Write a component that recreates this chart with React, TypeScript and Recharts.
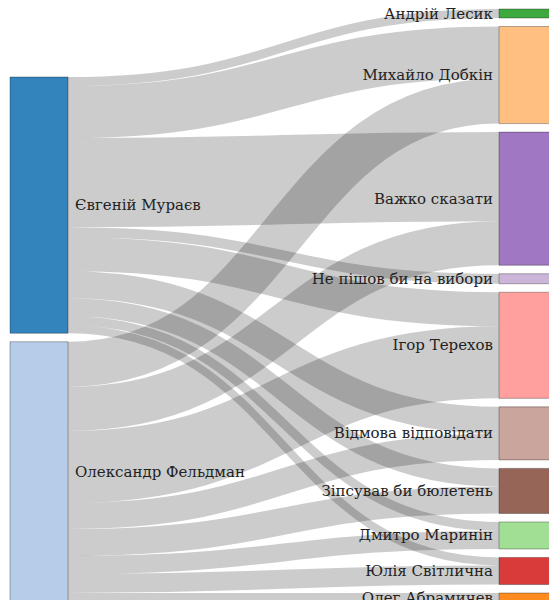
import React from 'react';
import { Sankey, Layer, Rectangle } from 'recharts';

// voters of the two left candidates and where they go
const sourceNames = ['Євгеній Мураєв', 'Олександр Фельдман'];
const targetNames = [
  'Андрій Лесик',
  'Михайло Добкін',
  'Важко сказати',
  'Не пішов би на вибори',
  'Ігор Терехов',
  'Відмова відповідати',
  'Зіпсував би бюлетень',
  'Дмитро Маринін',
  'Юлія Світлична',
  'Олег Абрамичев',
];
const muraevFlows = [9, 52, 89, 10, 34, 27, 18, 9, 8, 0];
const feldmanFlows = [0, 45, 44, 0, 72, 26, 27, 18, 19, 10];

const sourceColors = ['#3383bd', '#b6cce8'];
const targetColors = [
  '#3ea93e', '#ffbf80', '#a077c3', '#cbb6da', '#ffa09e',
  '#c9a59e', '#976458', '#a0df94', '#d93a3a', '#ff8a1f',
];

const nodes = [...sourceNames, ...targetNames].map((name) => ({ name }));
const links: { source: number; target: number; value: number }[] = [];
[muraevFlows, feldmanFlows].forEach((flows, s) => {
  flows.forEach((v, t) => {
    if (v > 0) links.push({ source: s, target: sourceNames.length + t, value: v });
  });
});
const colors = [...sourceColors, ...targetColors];

const SankeyNode = ({ x, y, width, height, index, payload }: any) => {
  const isLeft = payload.depth === 0;
  return (
    <Layer key={`node-${index}`}>
      <Rectangle
        x={x}
        y={y}
        width={width}
        height={height}
        fill={colors[index]}
        stroke="rgba(0,0,0,0.3)"
        strokeWidth={1}
      />
      <text
        x={isLeft ? x + width + 7 : x - 6}
        y={y + height / 2 + 5}
        textAnchor={isLeft ? 'start' : 'end'}
        fontFamily="DejaVu Serif"
        fontSize={15}
        fill="#222"
      >
        {payload.name}
      </text>
    </Layer>
  );
};

const SankeyLink = ({ sourceX, sourceY, sourceControlX, targetX, targetY, targetControlX, linkWidth, index }: any) => (
  <path
    key={`link-${index}`}
    d={`M${sourceX},${sourceY}C${sourceControlX},${sourceY} ${targetControlX},${targetY} ${targetX},${targetY}`}
    fill="none"
    stroke="#000"
    strokeOpacity={0.2}
    strokeWidth={linkWidth}
  />
);

export default function App() {
  return (
    <div
      style={{
        position: 'fixed',
        left: 0,
        top: 0,
        width: 549,
        height: 600,
        overflow: 'hidden',
        background: '#fff',
      }}
    >
      <Sankey
        width={562}
        height={610}
        data={{ nodes, links }}
        nodeWidth={58}
        nodePadding={8.5}
        sort={false}
        iterations={32}
        margin={{ top: 9, left: 10, right: 5, bottom: 7 }}
        node={(props: any) => <SankeyNode {...props} />}
        link={(props: any) => <SankeyLink {...props} />}
      />
    </div>
  );
}
